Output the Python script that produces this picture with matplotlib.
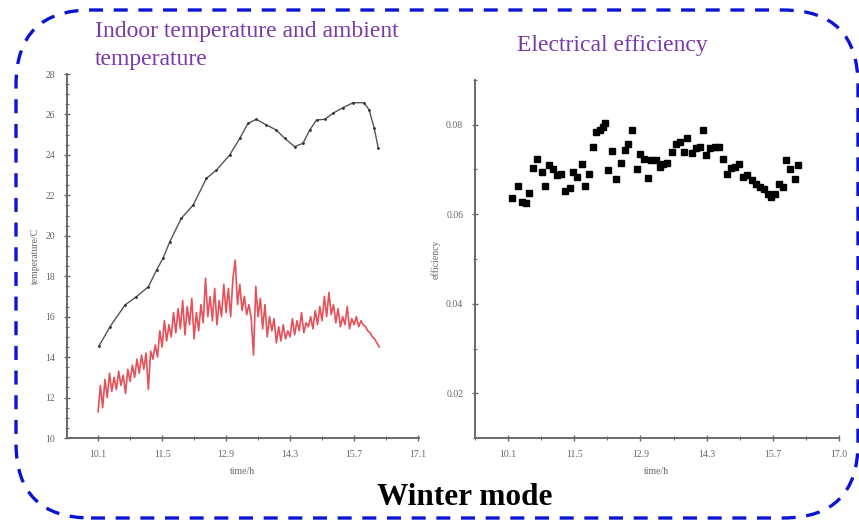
import numpy as np
import matplotlib
matplotlib.use("Agg")
import matplotlib.pyplot as plt
from matplotlib.patches import FancyBboxPatch
from matplotlib.transforms import IdentityTransform
from matplotlib.ticker import MultipleLocator, FixedLocator

# ---------------- data ----------------
indoor_t = [10.12, 10.36, 10.69, 10.94, 11.20, 11.38, 11.52, 11.67, 11.92, 12.18,
            12.47, 12.69, 12.98, 13.20, 13.38, 13.56, 13.78, 14.00, 14.18, 14.40,
            14.58, 14.73, 14.88, 15.06, 15.24, 15.46, 15.68, 15.92, 16.03, 16.14, 16.23]
indoor_T = [14.55, 15.50, 16.58, 16.99, 17.48, 18.31, 18.89, 19.71, 20.86, 21.52,
            22.84, 23.25, 24.00, 24.82, 25.56, 25.76, 25.48, 25.23, 24.82, 24.41,
            24.57, 25.23, 25.73, 25.76, 26.06, 26.34, 26.58, 26.58, 26.22, 25.32, 24.33]

ambient_start = 10.10
ambient_step = 0.05
ambient_T = [11.3, 12.6, 11.5, 12.9, 12.0, 13.2, 12.3, 13.0,
             12.4, 13.3, 12.6, 13.1, 12.2, 13.4, 12.8, 13.6,
             13.0, 13.9, 13.2, 14.1, 13.4, 14.2, 12.4, 14.3,
             13.9, 14.6, 14.0, 15.3, 14.5, 15.8, 14.8, 15.6,
             15.0, 16.2, 15.2, 16.4, 15.4, 16.8, 15.1, 16.5,
             15.6, 16.9, 14.9, 16.2, 15.3, 16.6, 15.7, 17.9,
             16.0, 17.0, 15.8, 17.4, 15.6, 16.8, 16.0, 17.6,
             16.2, 17.4, 16.0, 17.9, 18.8, 16.6, 17.6, 16.3,
             17.0, 16.1, 16.6, 15.9, 14.1, 17.5, 16.0, 16.9,
             15.4, 16.6, 15.0, 16.0, 15.3, 15.9, 14.7, 15.5,
             14.8, 15.6, 14.9, 15.3, 15.0, 15.9, 15.1, 15.8,
             15.3, 16.2, 15.2, 15.7, 15.5, 16.0, 15.4, 16.3,
             15.6, 16.5, 15.8, 17.0, 16.0, 17.2, 16.1, 16.6,
             15.7, 16.4, 15.5, 16.0, 15.6, 16.5, 15.4, 15.9,
             15.6, 16.0, 15.5, 15.8, 15.6, 15.5, 15.3, 15.2,
             15.0, 14.9, 14.7, 14.5]
ambient_t = ambient_start + ambient_step * np.arange(len(ambient_T))

eff_t = [10.19, 10.30, 10.39, 10.48, 10.55, 10.63, 10.71, 10.81, 10.88, 10.97,
         11.04, 11.13, 11.21, 11.30, 11.40, 11.48, 11.56, 11.66, 11.73, 11.81,
         11.89, 11.97, 12.04, 12.10, 12.16, 12.22, 12.30, 12.39, 12.48, 12.57,
         12.64, 12.73, 12.82, 12.89, 12.97, 13.06, 13.13, 13.22, 13.31, 13.38,
         13.47, 13.56, 13.65, 13.73, 13.82, 13.89, 13.98, 14.07, 14.15, 14.22,
         14.29, 14.38, 14.47, 14.56, 14.65, 14.73, 14.82, 14.89, 14.98, 15.07,
         15.15, 15.25, 15.34, 15.42, 15.51, 15.60, 15.67, 15.75, 15.83, 15.91,
         15.98, 16.07, 16.16, 16.24]
eff_v = [0.0636, 0.0664, 0.0627, 0.0626, 0.0648, 0.0704, 0.0724, 0.0694, 0.0663, 0.0711,
         0.0701, 0.0687, 0.0690, 0.0653, 0.0659, 0.0694, 0.0683, 0.0713, 0.0664, 0.0690,
         0.0751, 0.0784, 0.0789, 0.0796, 0.0805, 0.0698, 0.0741, 0.0679, 0.0714, 0.0744,
         0.0757, 0.0789, 0.0701, 0.0735, 0.0724, 0.0681, 0.0722, 0.0721, 0.0705, 0.0713,
         0.0714, 0.0739, 0.0757, 0.0762, 0.0739, 0.0770, 0.0737, 0.0748, 0.0750, 0.0789,
         0.0733, 0.0748, 0.0750, 0.0750, 0.0724, 0.0690, 0.0704, 0.0705, 0.0713, 0.0683,
         0.0687, 0.0676, 0.0668, 0.0662, 0.0657, 0.0646, 0.0639, 0.0646, 0.0667, 0.0662,
         0.0721, 0.0701, 0.0679, 0.0709]

x_ticks = [10.1, 11.5, 12.9, 14.3, 15.7, 17.1]
x_labels_left = ["10.1", "11.5", "12.9", "14.3", "15.7", "17.1"]
x_labels_right = ["10.1", "11.5", "12.9", "14.3", "15.7", "17.0"]
temp_ticks = [10, 12, 14, 16, 18, 20, 22, 24, 26, 28]
eff_ticks = [0.02, 0.04, 0.06, 0.08]
eff_labels = ["0.02", "0.04", "0.06", "0.08"]

title_left_lines = ["Indoor temperature and ambient", "temperature"]
title_right = "Electrical efficiency"
main_title = "Winter mode"

# ---------------- figure ----------------
W, H, DPI = 859, 521, 100
fig = plt.figure(figsize=(W / DPI, H / DPI), dpi=DPI)
fig.patch.set_facecolor("white")

def frac(l, t, r, b):
    return [l / W, 1 - b / H, (r - l) / W, (b - t) / H]

tick_font = dict(family="Liberation Serif", size=7, color="#666666")
axis_col = "#6a6a6a"

def style(ax):
    for s in ["top", "right"]:
        ax.spines[s].set_visible(False)
    for s in ["left", "bottom"]:
        ax.spines[s].set_color(axis_col)
        ax.spines[s].set_linewidth(1.4)
    ax.tick_params(which="major", direction="inout", length=5, width=1.0, color=axis_col,
                   labelsize=7, labelcolor="#666666", pad=6)
    ax.tick_params(which="minor", direction="inout", length=3, width=0.8, color=axis_col)
    for lab in ax.get_xticklabels() + ax.get_yticklabels():
        lab.set_family("Liberation Serif")

# left axes
ax1 = fig.add_axes(frac(67, 74, 419, 438))
ax1.plot(indoor_t, indoor_T, color="#555555", lw=1.0, marker="o", ms=1.0,
         mfc="#333333", mec="#333333")
ax1.plot(ambient_t, ambient_T, color="#e3313c", lw=1.2, alpha=0.85)
ax1.set_xlim(9.42, 17.12)
ax1.set_ylim(10, 28)
ax1.set_xticks(x_ticks)
ax1.set_xticklabels(x_labels_left)
ax1.set_yticks(temp_ticks)
ax1.set_yticklabels([str(v) for v in temp_ticks])
ax1.xaxis.set_minor_locator(FixedLocator([9.4 + 0.7 * k for k in range(12)]))
ax1.yaxis.set_minor_locator(MultipleLocator(0.5))
style(ax1)
ax1.set_xlabel("time/h", fontdict=tick_font, labelpad=6)
ax1.set_ylabel("temperature/C", fontdict=tick_font, labelpad=4)

# right axes
ax2 = fig.add_axes(frac(475, 80, 839, 438))
ax2.plot(eff_t, eff_v, linestyle="none", marker="s", ms=4.4, color="black")
ax2.set_xlim(9.4, 17.1)
ax2.set_ylim(0.01, 0.09)
ax2.set_xticks(x_ticks)
ax2.set_xticklabels(x_labels_right)
ax2.set_yticks(eff_ticks)
ax2.set_yticklabels(eff_labels)
ax2.xaxis.set_minor_locator(FixedLocator([9.4 + 0.7 * k for k in range(12)]))
ax2.yaxis.set_minor_locator(MultipleLocator(0.01))
style(ax2)
ax2.set_xlabel("time/h", fontdict=tick_font, labelpad=6)
ax2.set_ylabel("efficiency", fontdict=tick_font, labelpad=4)

# titles
purple = "#7a3aa8"
for line, base in zip(title_left_lines, [37, 65]):
    fig.text(95 / W, 1 - base / H, line, ha="left", va="baseline", color=purple,
             family="Liberation Serif", fontsize=17)
fig.text(517 / W, 1 - 51 / H, title_right, ha="left", va="baseline", color=purple,
         family="Liberation Serif", fontsize=17)
fig.text(465 / W, 1 - 505 / H, main_title, ha="center", va="baseline", color="black",
         family="Liberation Serif", fontsize=22.5, fontweight="bold")

# dashed rounded border (pixel coordinates)
box = FancyBboxPatch((16, H - 518), 842, 508,
                     boxstyle="round,pad=0,rounding_size=75",
                     transform=IdentityTransform(), fill=False,
                     edgecolor="#0a14d2", linewidth=2.4,
                     linestyle=(0, (4.2, 3.2)))
fig.patches.append(box)

fig.savefig("out.png", dpi=DPI)
